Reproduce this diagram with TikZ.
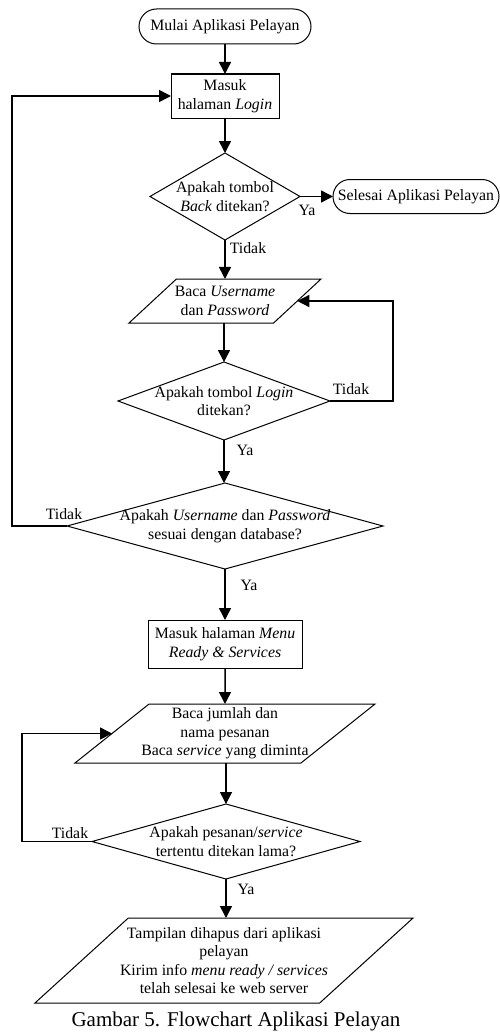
\documentclass[tikz,border=0pt]{standalone}
\usepackage{fontspec}
\setmainfont{Liberation Serif}
\usetikzlibrary{shapes.geometric,shapes.misc,arrows.meta}
\newcommand{\tinybox}{\hspace*{1pt}\rule{0pt}{1pt}}
\begin{document}
\begin{tikzpicture}[x=1pt,y=-1pt,
  font=\fontsize{15.8}{18.5}\selectfont,
  base/.style={draw, line width=1pt, inner sep=0pt, outer sep=0pt},
  term/.style={base, rounded rectangle},
  proc/.style={base, rectangle},
  dec/.style={base, diamond},
  io/.style={base, trapezium, trapezium left angle=64, trapezium right angle=116, trapezium stretches=true},
  txt/.style={label={[align=center, inner sep=0pt]center:{#1}}},
  arr/.style={line width=1.5pt, -{Triangle[length=12pt,width=12pt]}},
  lab/.style={inner sep=0pt},
]
\useasboundingbox (0,0) rectangle (500,1033);

\node[term, minimum width=172pt, minimum height=35pt, txt={Mulai Aplikasi Pelayan}] (start) at (225,26.5) {};
\node[proc, minimum width=108pt, minimum height=44pt, txt={Masuk\\halaman \textit{Login}}] (login) at (225,96) {};
\node[dec, minimum width=150pt, minimum height=87pt, txt={Apakah tombol\\\textit{Back} ditekan?}] (d1) at (225,196.5) {};
\node[term, minimum width=166pt, minimum height=34pt, txt={Selesai Aplikasi Pelayan}] (endn) at (416,196.5) {};
\node[io, minimum width=192pt, minimum height=44pt, txt={Baca \textit{Username}\\dan \textit{Password}}] (p1) at (225,301) {\tinybox};
\node[dec, minimum width=212pt, minimum height=78pt, txt={Apakah tombol \textit{Login}\\ditekan?}] (d2) at (224,401) {};
\node[dec, minimum width=316pt, minimum height=86pt, txt={Apakah \textit{Username} dan \textit{Password}\\sesuai dengan database?}] (d3) at (225,526) {};
\node[proc, minimum width=154pt, minimum height=48pt, txt={Masuk halaman \textit{Menu}\\\textit{Ready \& Services}}] (menu) at (225,644) {};
\node[io, minimum width=300pt, minimum height=59pt, txt={Baca jumlah dan\\nama pesanan\\Baca \textit{service} yang diminta}] (p2) at (225,733.5) {\tinybox};
\node[dec, minimum width=268pt, minimum height=75pt, txt={Apakah pesanan/\textit{service}\\tertentu ditekan lama?}] (d4) at (226,841.5) {};
\node[io, minimum width=378pt, minimum height=85pt, txt={Tampilan dihapus dari aplikasi\\pelayan\\Kirim info \textit{menu ready / services}\\telah selesai ke web server}] (p3) at (224,960.5) {\tinybox};
\node[font=\fontsize{21}{25}\selectfont, inner sep=0pt] (cap) at (236,1021) {Gambar 5. Flowchart Aplikasi Pelayan};

\draw[arr] (start.south) -- (login.north);
\draw[arr] (login.south) -- (d1.north);
\draw[arr] (d1.east) -- (endn.west);
\draw[arr] (d1.south) -- (p1.north -| d1.south);
\draw[arr] (p1.south -| d2.north) -- (d2.north);
\draw[arr] (d2.east) -- ++(63,0) |- (p1.east);
\draw[arr] (d2.south) -- (d3.north -| d2.south);
\draw[arr] (d3.west) -- ++(-55,0) |- (login.west);
\draw[arr] (d3.south) -- (menu.north);
\draw[arr] (menu.south) -- (p2.north);
\draw[arr] (p2.south -| d4.north) -- (d4.north);
\draw[arr] (d4.west) -- ++(-70,0) |- (p2.west);
\draw[arr] (d4.south) -- (p3.north -| d4.south);

\node[lab] (l1) at (307,210) {Ya};
\node[lab] (l2) at (248,248) {Tidak};
\node[lab] (l3) at (351,389) {Tidak};
\node[lab] (l4) at (245,450) {Ya};
\node[lab] (l5) at (64,514) {Tidak};
\node[lab] (l6) at (249,585) {Ya};
\node[lab] (l7) at (70,833) {Tidak};
\node[lab] (l8) at (246,889) {Ya};
\end{tikzpicture}
\end{document}
